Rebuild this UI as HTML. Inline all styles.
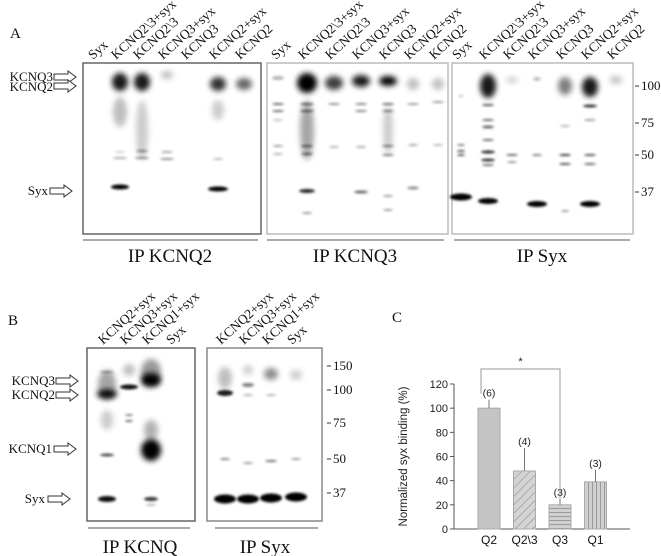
<!DOCTYPE html>
<html><head><meta charset="utf-8"><style>
body{margin:0;background:#fff;}
svg{display:block;font-family:"Liberation Serif",serif;}
.sans{font-family:"Liberation Sans",sans-serif;}
</style></head><body>
<svg id="fig" width="661" height="556" viewBox="0 0 661 556">
<defs>
<filter id="bl" x="-50%" y="-100%" width="200%" height="300%"><feGaussianBlur stdDeviation="1.3"/></filter>
<filter id="bl2" x="-50%" y="-100%" width="200%" height="300%"><feGaussianBlur stdDeviation="3"/></filter>
<pattern id="diag" width="6" height="6" patternUnits="userSpaceOnUse" patternTransform="rotate(45)"><rect width="6" height="6" fill="#d4d4d4"/><line x1="0" y1="0" x2="0" y2="6" stroke="#888" stroke-width="1"/></pattern>
<pattern id="horiz" width="4" height="4" patternUnits="userSpaceOnUse"><rect width="4" height="4" fill="#d0d0d0"/><line x1="0" y1="0.5" x2="4" y2="0.5" stroke="#999" stroke-width="1"/></pattern>
<pattern id="vert" width="4" height="4" patternUnits="userSpaceOnUse"><rect width="4" height="4" fill="#d0d0d0"/><line x1="0.5" y1="0" x2="0.5" y2="4" stroke="#999" stroke-width="1"/></pattern>
<g id="arrow"><path d="M0,-3 H14 V-6 L22,0 L14,6 V3 H0 Z" fill="#fff" stroke="#333" stroke-width="1"/></g>
</defs>
<g id="blots"></g>
<g id="labels"></g>
<g id="chartC"></g>
</svg>
<script>
const NS="http://www.w3.org/2000/svg";
const svg=document.getElementById('fig');
function el(tag,attrs,parent,text){const e=document.createElementNS(NS,tag);for(const k in attrs)e.setAttribute(k,attrs[k]);if(text!==undefined)e.textContent=text;(parent||svg).appendChild(e);return e;}
const B=document.getElementById('blots');
const L=document.getElementById('labels');

const boxes=[[83,63,178,171,'#666'],[267,63,181,171,'#bbb'],[452,63,181,171,'#bbb'],[87,348,108,173,'#666'],[207,348,115,173,'#888']];
boxes.forEach(b=>{const r=el('rect',{x:b[0],y:b[1],width:b[2],height:b[3],fill:'#fff',stroke:b[4],'stroke-width':1.5},B);

});

const bands=[
[120,82,16,18,0.9,1],[120,112,14,30,0.25,1],[120,187,18,5,1,0],[120,158,14,2,0.35,0],[120,152,10,2,0.2,0],
[142,82,16,18,0.9,1],[142,130,12,60,0.2,1],[142,151,12,3,0.35,0],[142,158,14,2,0.45,0],
[167,75,12,8,0.25,1],[167,152,12,2,0.35,0],[167,159,14,2,0.45,0],
[218,84,16,14,0.8,1],[218,110,12,20,0.2,1],[218,189,20,5,1,0],[218,159,10,2,0.3,0],
[244,84,16,12,0.6,1],
[278,78,12,4,0.3,0],[278,104,12,2,0.6,0],[278,111,12,2,0.6,0],[278,146,10,2,0.4,0],[278,154,10,2,0.3,0],[278,120,10,2,0.25,0],
[307,83,20,20,1,1],[307,130,14,60,0.35,1],[307,104,14,2,0.6,0],[307,111,14,2,0.6,0],[307,146,12,2,0.6,0],[307,154,12,2,0.6,0],[307,191,16,4,0.85,0],[307,213,10,2,0.4,0],
[334,83,18,14,0.75,1],[334,104,12,2,0.45,0],[334,147,10,2,0.3,0],
[361,81,18,12,0.9,1],[361,104,12,2,0.5,0],[361,111,12,2,0.5,0],[361,147,10,2,0.35,0],[361,192,14,3,0.6,0],
[388,81,18,10,1,1],[388,104,12,2,0.6,0],[388,111,12,2,0.5,0],[388,146,12,2,0.5,0],[388,155,12,2,0.5,0],[388,130,10,50,0.2,1],[388,196,10,2,0.4,0],[388,210,10,2,0.4,0],
[413,84,12,12,0.25,1],[413,104,12,2,0.4,0],[413,145,10,2,0.35,0],[413,188,12,3,0.45,0],
[438,84,12,12,0.25,1],[438,102,12,2,0.4,0],[438,145,10,2,0.3,0],
[461,96,4,2,0.3,0],[461,145,8,2,0.5,0],[461,151,8,2,0.7,0],[461,155,8,2,0.7,0],[461,197,22,7,1,0],
[488,86,16,24,0.9,1],[488,105,12,2,0.7,0],[488,120,12,2,0.6,0],[488,127,12,3,0.6,0],[488,140,12,2,0.6,0],[488,152,14,3,0.85,0],[488,160,14,3,0.8,0],[488,165,12,2,0.6,0],[488,201,20,6,1,0],
[512,80,12,6,0.2,1],[512,155,12,2,0.6,0],[512,162,10,2,0.4,0],
[537,79,8,4,0.25,0],[537,155,10,2,0.5,0],[537,204,20,6,1,0],
[565,86,14,18,0.5,1],[565,155,12,2,0.8,0],[565,164,12,2,0.7,0],[565,126,10,2,0.3,0],[565,211,8,2,0.4,0],
[590,87,16,20,0.9,1],[590,106,14,3,0.8,0],[590,120,12,2,0.4,0],[590,155,12,2,0.7,0],[590,164,12,2,0.6,0],[590,204,20,6,1,0],
[616,80,12,8,0.25,1],
[107,385,18,30,0.35,1],[107,394,20,9,1,1],[107,372,14,2,0.4,0],[107,455,14,3,0.7,0],[107,499,18,6,0.95,0],[107,420,12,20,0.2,1],
[129,387,18,5,0.95,0],[129,370,12,12,0.25,1],[129,415,8,2,0.5,0],[129,421,8,2,0.6,0],
[151,372,20,26,0.4,1],[151,380,20,14,1,1],[151,450,20,22,1,1],[151,430,14,20,0.3,1],[151,499,14,4,0.8,0],[151,505,10,2,0.3,0],
[225,393,16,6,0.9,0],[225,378,14,22,0.25,1],[225,459,10,2,0.5,0],[225,499,22,9,1,0],
[248,385,12,4,0.5,0],[248,395,10,2,0.3,0],[248,370,10,10,0.2,1],[248,463,10,2,0.4,0],[248,499,22,9,1,0],
[271,374,14,12,0.45,1],[271,395,10,2,0.3,0],[271,461,12,2,0.6,0],[271,498,22,9,1,0],
[296,375,12,10,0.2,1],[296,459,10,2,0.4,0],[296,497,22,9,1,0]
];
bands.forEach(b=>{const e=el('ellipse',{cx:b[0],cy:b[1],rx:b[2]/2,ry:b[3]/2,fill:'#000','fill-opacity':b[4],filter:b[5]?'url(#bl2)':'url(#bl)'},B);

});

const laneA=['Syx','KCNQ2\\3+syx','KCNQ2\\3','KCNQ3+syx','KCNQ3','KCNQ2+syx','KCNQ2'];
const laneAX=[[97,120,142,167,190,218,244],[280,307,334,361,388,413,438],[461,488,512,537,565,590,616]];
laneAX.forEach(xs=>xs.forEach((x,i)=>{const t=el('text',{x:0,y:0,'font-size':13.5,fill:'#111',transform:`translate(${x-4},60) rotate(-42)`},L,laneA[i]);

}));
const laneB=['KCNQ2+syx','KCNQ3+syx','KCNQ1+syx','Syx'];
[[107,129,151,175],[225,248,271,296]].forEach(xs=>xs.forEach((x,i)=>{const t=el('text',{x:0,y:0,'font-size':13.5,fill:'#111',transform:`translate(${x-4},345) rotate(-42)`},L,laneB[i]);

}));

function txt(x,y,s,size,anchor,name){const t=el('text',{x:x,y:y,'font-size':size,'text-anchor':anchor||'start',fill:'#111'},L,s);return t;}
txt(10,38,'A',15,'start','panel-label-a');
txt(8,325,'B',15,'start','panel-label-b');
txt(392,322,'C',15,'start','panel-label-c');
txt(53,81,'KCNQ3',13,'end','kcnq3-marker');txt(53,91,'KCNQ2',13,'end','kcnq2-marker');txt(48,195,'Syx',13,'end','syx-marker');
txt(55,385,'KCNQ3',13,'end','kcnq3-marker-b');txt(55,399,'KCNQ2',13,'end','kcnq2-marker-b');txt(52,453,'KCNQ1',13,'end','kcnq1-marker-b');txt(45,503,'Syx',13,'end','syx-marker-b');
[[54,77],[54,86],[50,191],[56,381],[56,395],[54,449],[48,499]].forEach(p=>{const u=el('use',{href:'#arrow',x:p[0],y:p[1]},L);});
[['100',86],['75',123],['50',155],['37',192]].forEach(m=>{el('line',{x1:635,x2:639,y1:m[1],y2:m[1],stroke:'#333'},L);txt(641,m[1]+4,m[0],13,'start','mw-marker-'+m[0]);});
[['150',366],['100',390],['75',423],['50',459],['37',493]].forEach(m=>{el('line',{x1:327,x2:331,y1:m[1],y2:m[1],stroke:'#333'},L);txt(333,m[1]+4,m[0],13,'start','mw-marker-b-'+m[0]);});
[[83,258,240],[267,444,240],[454,630,240],[88,190,528],[215,318,528]].forEach(u=>el('line',{x1:u[0],x2:u[1],y1:u[2],y2:u[2],stroke:'#555','stroke-width':1},L));
txt(170,262,'IP KCNQ2',19,'middle','ip-kcnq2-label');txt(355,262,'IP KCNQ3',19,'middle','ip-kcnq3-label');txt(542,262,'IP Syx',19,'middle','ip-syx-label');
txt(140,553,'IP KCNQ',19,'middle','ip-kcnq-label');txt(265,553,'IP Syx',19,'middle','ip-syx-label-b');

// Chart C
const categories=['Q2','Q2\\3','Q3','Q1'];
const means=[100,48,20,39];
const errors=[7,19,5,10];
const nLabels=['(6)','(4)','(3)','(3)'];
const yTicks=[0,20,40,60,80,100,120];
const fills=['#c4c4c4','url(#diag)','url(#horiz)','url(#vert)'];
const C=document.getElementById('chartC');
const x0=454,x1=630,yb=529,yt=384,ymax=120;
const Y=v=>yb-(v/ymax)*(yb-yt);
const X=i=>489+i*35.5;
const bw=22;
const ax=el('line',{x1:x0,x2:x0,y1:yt,y2:yb,stroke:'#555'},C);
const xa=el('line',{x1:x0,x2:x1,y1:yb,y2:yb,stroke:'#555'},C);
yTicks.forEach(v=>{el('line',{x1:x0-4,x2:x0,y1:Y(v),y2:Y(v),stroke:'#555'},C);
const t=el('text',{x:x0-6,y:Y(v)+4,'font-size':11,'text-anchor':'end',class:'sans',fill:'#222'},C,v);

});
const yt2=el('text',{x:0,y:0,'font-size':11.5,'text-anchor':'middle',class:'sans',fill:'#222',transform:`translate(407,${(yt+yb)/2}) rotate(-90)`},C,'Normalized syx binding (%)');


categories.forEach((c,i)=>{
const cx=X(i);
const r=el('rect',{x:cx-bw/2,y:Y(means[i]),width:bw,height:yb-Y(means[i]),fill:fills[i],stroke:'#aaa','stroke-width':1},C);


const e=el('line',{x1:cx,x2:cx,y1:Y(means[i]),y2:Y(means[i]+errors[i]),stroke:'#777','stroke-width':1},C);


const n=el('text',{x:cx,y:Y(means[i]+errors[i])-3,'font-size':10.5,'text-anchor':'middle',class:'sans',fill:'#222'},C,nLabels[i]);


const t=el('text',{x:cx,y:yb+15,'font-size':12,'text-anchor':'middle',class:'sans',fill:'#111'},C,c);


});
const br=el('path',{d:`M${X(0)-8},${Y(112)} V369 H${X(2)} V${Y(25)}`,fill:'none',stroke:'#999','stroke-width':1},C);


const st=el('text',{x:(X(0)-8+X(2))/2,y:365,'font-size':11,'text-anchor':'middle',class:'sans',fill:'#222'},C,'*');


</script>
</body></html>
